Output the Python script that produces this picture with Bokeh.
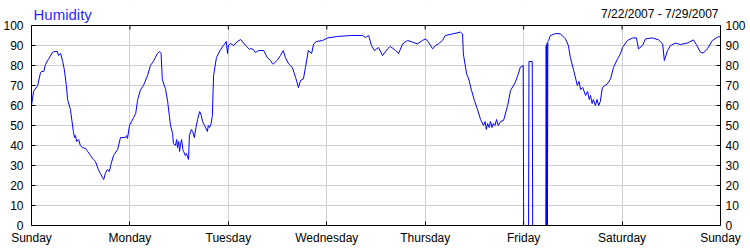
from bokeh.plotting import figure
from bokeh.models import Range1d, FixedTicker, LinearAxis, Grid, Label, BoxAnnotation
from bokeh.embed import file_html
from bokeh.resources import INLINE

# ---- data (hours since Sunday 7/22/2007 00:00, relative humidity %) ----
hours = [
    0, 0.5, 1.5, 2.2, 2.5, 3.0, 3.4, 4.1, 5.1, 5.5, 6.3, 6.6, 7.1, 7.6, 8.0, 8.5, 8.8, 9.5,
    10.2, 10.5, 10.7, 11.0, 11.5, 11.9, 12.4, 13.2, 13.7, 14.4, 15.1, 15.6, 16.3, 16.8, 17.3,
    17.6, 18.0, 18.5, 19.0, 19.3, 20.0, 21.0, 21.7, 22.9, 23.2, 23.4, 23.9,
    24.9, 25.4, 25.9, 26.6, 27.3, 28.3, 29.0, 29.7, 30.7, 31.2, 31.6, 31.9, 32.7, 33.2, 33.6,
    33.9, 34.4, 34.6, 35.1, 35.4, 35.6, 35.9, 36.1, 36.3, 36.6, 36.9, 37.1, 37.5, 37.8, 38.1,
    38.3, 38.5, 39.0, 39.3, 39.7, 40.1, 40.5, 41.0, 41.4, 41.7, 42.2, 42.9, 43.1, 43.4, 43.8,
    44.1, 44.4, 45.1, 46.1, 46.8, 47.5, 47.8, 48.0, 48.5, 49.3, 50.2, 51.0, 52.2, 53.2,
    53.4, 54.1, 54.6, 55.4, 56.6, 57.5, 58.3, 58.7, 59.0, 60.0, 60.7, 61.4, 61.9, 62.7, 63.6,
    64.4, 65.1, 65.6, 66.3, 66.8, 67.5, 68.3, 68.8, 69.5, 71.0, 72.2, 74.6,
    77.8, 80.7, 81.4, 82.2, 82.9, 83.6, 84.6, 85.6, 86.8, 87.5, 88.8, 89.5, 90.5, 91.7, 92.9,
    94.1, 95.3,
    96.1, 96.8, 97.8, 98.5, 99.2, 100.2, 100.9, 102.7, 104.6, 105.1, 105.3, 106.1, 106.6, 107.3,
    108.0, 108.7, 109.5, 110.2, 110.6, 110.9, 111.2, 111.6, 111.9, 112.3, 112.6, 113.0, 113.4,
    113.8, 114.4, 115.1, 116.1, 116.8, 118.0, 118.7, 119.2, 119.9,
    120.0, 121.2, 121.3, 122.1, 122.2, 125.4, 125.5, 125.6, 125.7, 125.8, 125.9, 126.1, 126.5,
    127.8, 129.0, 130.2, 130.9, 131.4, 132.2, 133.1, 133.5, 133.9, 134.4, 135.1, 135.6, 136.0,
    136.3, 136.7, 137.0, 137.5, 137.9, 138.3, 138.7, 139.2, 140.4, 141.2, 141.9, 142.9, 143.6,
    144.1, 145.3, 146.6, 147.5, 148.0, 149.0, 149.7, 151.4, 152.9, 153.9, 154.3, 155.1, 155.8,
    157.0, 158.2, 159.9, 161.4, 162.1, 163.1, 163.8, 164.8, 166.0, 167.3, 168.0,
]
humidity = [
    60, 67, 70, 76.5, 77, 77, 80.5, 83, 86.5, 87, 87, 85, 86, 82, 78, 70, 63, 58,
    47, 44, 45, 42, 43, 40, 39, 38.5, 37, 35, 33, 32, 28, 26, 24,
    23, 26, 28, 27, 30, 35, 38, 44, 44, 45, 43.5, 50,
    54, 56, 63, 68, 70, 75, 80, 82, 86, 87, 86, 73, 68, 62, 55,
    50, 46, 41, 40, 43, 39, 42, 37, 40, 43, 38, 37, 35, 36, 34,
    33, 45, 48, 47, 44, 49, 53, 57, 55, 52, 50, 47, 50, 49, 51,
    55, 75, 84, 88, 90, 92, 86, 90, 91, 90, 92, 93, 90, 88,
    88.5, 88, 86.5, 87.5, 87.5, 84, 82.5, 81, 80.8, 82.8, 85, 87.5, 84, 80.8, 79,
    74, 69, 72.5, 73.3, 79, 87.5, 86, 90.8, 92, 92.5, 93.8, 94.5,
    95, 95, 94, 95, 90, 87.5, 89, 85, 88.3, 89.5, 87.5, 86, 90.8, 92.5, 91.7,
    90.8, 92.5,
    93.3, 91.7, 88.3, 90, 90.8, 92.5, 95, 95.8, 96.7, 95.8, 85.8, 75.8, 73.3, 67.5,
    62.5, 58.3, 53, 50, 52, 48, 51, 49, 52, 49, 51, 50, 53,
    50, 52, 52.5, 60, 67.5, 71.7, 75.8, 79.2, 80,
    0, 0, 82, 82, 0, 0, 90, 0, 91, 0, 92, 92.5, 95,
    96, 95.8, 93.3, 90, 84, 77.5, 70, 72, 68, 69, 65, 67, 63,
    65, 61, 63, 60, 63, 60, 62, 69, 70.8, 73.3, 79, 83.3, 85.8,
    89, 92.5, 93.8, 93.8, 88.3, 90, 93.3, 93.8, 92.8, 90.8, 82.5, 87.5, 90,
    91.2, 90.5, 91.2, 92.8, 90.5, 86.7, 86.2, 88.3, 92.5, 94.2, 94.5,
]
day_ticks = [0, 24, 48, 72, 96, 120, 144, 168]
day_labels = ["Sunday", "Monday", "Tuesday", "Wednesday", "Thursday", "Friday", "Saturday", "Sunday"]
y_ticks = [0, 10, 20, 30, 40, 50, 60, 70, 80, 90, 100]
title_text = "Humidity"
range_text = "7/22/2007 - 7/29/2007"

FONT = "Liberation Sans"
X_MIN, X_MAX = 0, 168
Y_MIN, Y_MAX = 0, 100
# the frame also covers the title strip: the 0..100 plot box is its lower 200 px
HEADROOM = 112.5
TICK_LEN = 2  # inward top tick length in humidity units (4 px)

p = figure(width=750, height=250, output_backend="svg", toolbar_location=None, title=None,
           x_range=Range1d(X_MIN, X_MAX), y_range=Range1d(Y_MIN, HEADROOM),
           min_border_left=31, min_border_right=30, min_border_top=0,
           min_border_bottom=25, x_axis_location=None, y_axis_location=None)
p.background_fill_color = "white"
p.border_fill_color = "white"
p.outline_line_color = None

xt = FixedTicker(ticks=day_ticks)
yt = FixedTicker(ticks=y_ticks)
overrides = {t: l for t, l in zip(day_ticks, day_labels)}

def style_axis(ax):
    ax.axis_line_color = "black"
    ax.major_tick_line_color = "black"
    ax.minor_tick_line_color = None
    ax.major_label_text_font = FONT
    ax.major_label_text_font_size = "12px"
    ax.major_label_text_color = "black"
    ax.major_tick_out = 0
    ax.major_tick_in = 4

bottom = LinearAxis(ticker=xt, major_label_overrides=overrides)
style_axis(bottom)
bottom.major_label_standoff = 5
p.add_layout(bottom, "below")

left = LinearAxis(ticker=yt, bounds=(Y_MIN, Y_MAX))
style_axis(left)
left.major_label_standoff = 8
p.add_layout(left, "left")

right = LinearAxis(ticker=yt, bounds=(Y_MIN, Y_MAX))
style_axis(right)
right.major_label_standoff = 5
p.add_layout(right, "right")

for g in p.grid:
    g.grid_line_color = "#d0d0d0"
    g.grid_line_width = 1
p.xgrid.ticker = xt
p.ygrid.ticker = yt

# title strip: blank out the grid lines above the plot box
p.add_layout(BoxAnnotation(bottom=Y_MAX + 0.3, fill_color="white", fill_alpha=1.0,
                           line_color=None))
# top border of the plot box
p.add_layout(Grid(dimension=1, ticker=FixedTicker(ticks=[Y_MAX]), grid_line_color="black",
                  grid_line_width=1))
# inward day ticks on the top border
p.segment(x0=day_ticks, y0=[Y_MAX] * len(day_ticks), x1=day_ticks,
          y1=[Y_MAX - TICK_LEN] * len(day_ticks), line_color="black", line_width=1)

p.line(hours, humidity, line_color="#0000ff", line_width=1)

p.add_layout(Label(x=2, y=211.5, x_units="screen", y_units="screen", text=title_text,
                   text_font=FONT, text_font_size="15px", text_color="#2a2aff",
                   text_baseline="alphabetic", text_align="left"))
p.add_layout(Label(x=687, y=212, x_units="screen", y_units="screen", text=range_text,
                   text_font=FONT, text_font_size="12px", text_color="black",
                   text_baseline="alphabetic", text_align="right"))

open("out.html", "w").write(file_html(p, INLINE))
